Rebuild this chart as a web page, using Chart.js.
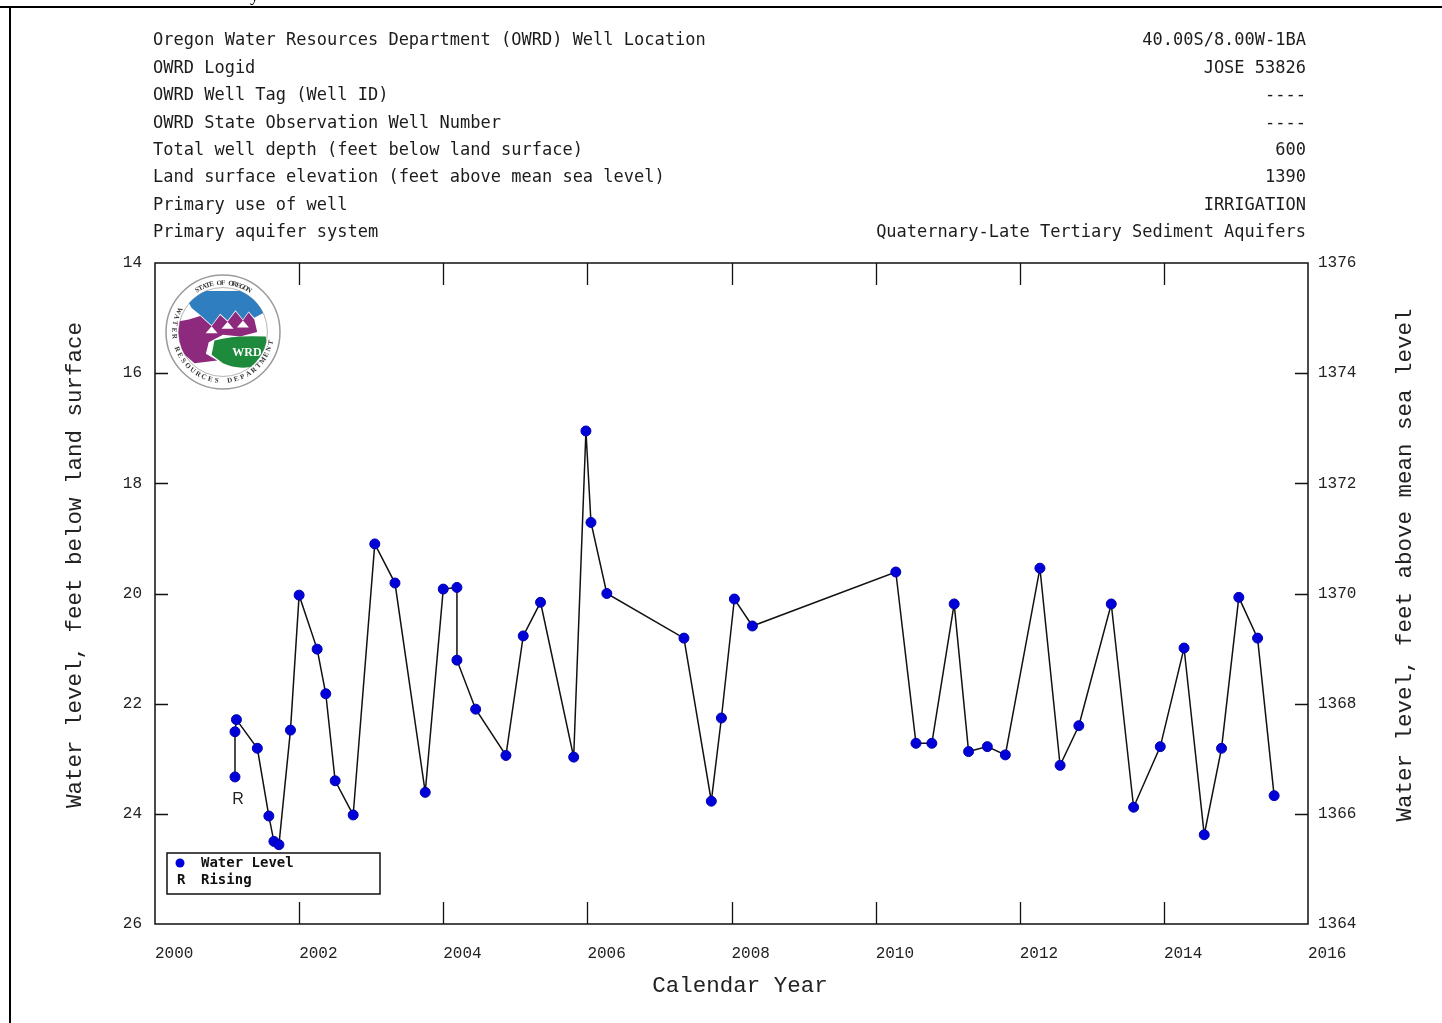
<!DOCTYPE html>
<html><head><meta charset="utf-8">
<script src="https://cdn.jsdelivr.net/npm/chart.js@4.4.1/dist/chart.umd.min.js"></script>
<style>html,body{margin:0;padding:0;background:#fff;overflow:hidden}canvas{display:block}</style>
</head><body>
<canvas id="c" width="1442" height="1023"></canvas>
<script>
// ---- data ----
const years = [2001.11, 2001.11, 2001.13, 2001.42, 2001.58, 2001.65, 2001.72, 2001.88, 2002.00, 2002.25,
  2002.37, 2002.50, 2002.75, 2003.05, 2003.33, 2003.75, 2004.00, 2004.19, 2004.19, 2004.45,
  2004.87, 2005.11, 2005.35, 2005.81, 2005.98, 2006.05, 2006.27, 2007.34, 2007.72, 2007.86,
  2008.04, 2008.29, 2010.28, 2010.56, 2010.78, 2011.09, 2011.29, 2011.55, 2011.80, 2012.28,
  2012.56, 2012.82, 2013.27, 2013.58, 2013.95, 2014.28, 2014.56, 2014.80, 2015.04, 2015.30, 2015.53];
const depths = [23.33, 22.51, 22.29, 22.81, 24.04, 24.50, 24.56, 22.48, 20.03, 21.01,
  21.82, 23.40, 24.02, 19.10, 19.81, 23.61, 19.92, 19.89, 21.21, 22.10,
  22.94, 20.77, 20.16, 22.97, 17.05, 18.71, 20.00, 20.81, 23.77, 22.26,
  20.10, 20.59, 19.61, 22.72, 22.72, 20.19, 22.87, 22.78, 22.93, 19.54,
  23.12, 22.40, 20.19, 23.88, 22.78, 20.99, 24.38, 22.81, 20.07, 20.81, 23.67];
const risingIndex = [0];
const landElevation = 1390;
const xTickYears = [2000, 2002, 2004, 2006, 2008, 2010, 2012, 2014, 2016];
const depthTicks = [14, 16, 18, 20, 22, 24, 26];
const elevTicks = [1376, 1374, 1372, 1370, 1368, 1366, 1364];
const headerLabels = ["Oregon Water Resources Department (OWRD) Well Location", "OWRD Logid",
  "OWRD Well Tag (Well ID)", "OWRD State Observation Well Number", "Total well depth (feet below land surface)",
  "Land surface elevation (feet above mean sea level)", "Primary use of well", "Primary aquifer system"];
const headerValues = ["40.00S/8.00W-1BA", "JOSE 53826", "----", "----", "600", "1390", "IRRIGATION",
  "Quaternary-Late Tertiary Sediment Aquifers"];
const legendItems = ["Water Level", "Rising"];
const xTitle = "Calendar Year";
const yTitle = "Water level, feet below land surface";
const y2Title = "Water level, feet above mean sea level";

const MONO = "'Liberation Mono', 'DejaVu Sans Mono', monospace";
const HDR = "'DejaVu Sans Mono', monospace";
const TXT = '#1c1c1c';

function drawArcText(ctx, text, cx, cy, r, startAng, step, outwardTop) {
  let a = startAng;
  for (const ch of text) {
    ctx.save();
    ctx.translate(cx + r * Math.cos(a), cy + r * Math.sin(a));
    ctx.rotate(outwardTop ? a + Math.PI / 2 : a - Math.PI / 2);
    ctx.fillText(ch, 0, 0);
    ctx.restore();
    a += step;
  }
}

function drawLogo(ctx, cx, cy, r) {
  ctx.save();
  ctx.beginPath(); ctx.arc(cx, cy, r, 0, Math.PI * 2);
  ctx.fillStyle = '#fff'; ctx.fill();
  ctx.lineWidth = 1.5; ctx.strokeStyle = '#9a9a9a'; ctx.stroke();
  ctx.beginPath(); ctx.arc(cx, cy, r * 0.78, 0, Math.PI * 2);
  ctx.lineWidth = 1; ctx.strokeStyle = '#b5b5b5'; ctx.stroke();
  const P = (fx, fy) => [cx + fx * r, cy + fy * r];
  ctx.save();
  ctx.beginPath(); ctx.arc(cx, cy, r * 0.78, 0, Math.PI * 2); ctx.clip();
  // blue (Oregon)
  ctx.beginPath();
  let pts = [[-0.55,-0.42],[-0.62,-0.55],[-0.5,-0.62],[-0.45,-0.75],[-0.3,-0.72],[0.2,-0.72],[0.7,-0.72],[0.74,-0.35],
    [0.55,-0.25],[0.45,-0.36],[0.35,-0.22],[0.22,-0.38],[0.08,-0.2],[-0.05,-0.32],[-0.2,-0.12],[-0.4,-0.3]];
  pts.forEach((p, i) => { const q = P(p[0], p[1]); i ? ctx.lineTo(q[0], q[1]) : ctx.moveTo(q[0], q[1]); });
  ctx.closePath(); ctx.fillStyle = '#2f7fc0'; ctx.fill();
  // purple band
  ctx.beginPath();
  pts = [[-0.95,-0.15],[-0.6,-0.22],[-0.4,-0.28],[-0.2,-0.1],[-0.05,-0.3],[0.08,-0.18],[0.22,-0.36],[0.35,-0.2],
    [0.45,-0.34],[0.55,-0.22],[0.6,0.0],[0.3,0.08],[0.0,0.05],[-0.25,0.18],[-0.3,0.38],[-0.1,0.5],[-0.5,0.55],[-0.9,0.2]];
  pts.forEach((p, i) => { const q = P(p[0], p[1]); i ? ctx.lineTo(q[0], q[1]) : ctx.moveTo(q[0], q[1]); });
  ctx.closePath(); ctx.fillStyle = '#8e2a7e'; ctx.fill();
  // snow caps
  ctx.fillStyle = '#fff';
  [[-0.2,-0.1],[0.08,-0.18],[0.35,-0.2]].forEach(p => {
    const a = P(p[0], p[1]);
    ctx.beginPath(); ctx.moveTo(a[0], a[1]); ctx.lineTo(a[0] - 6, a[1] + 7); ctx.lineTo(a[0] + 6, a[1] + 7); ctx.closePath(); ctx.fill();
  });
  // green
  ctx.beginPath();
  let g = P(-0.15, 0.15); ctx.moveTo(g[0], g[1]);
  g = P(0.2, 0.05); let g2 = P(0.75, 0.08); ctx.quadraticCurveTo(g[0], g[1], g2[0], g2[1]);
  g = P(0.8, 0.55); ctx.lineTo(g[0], g[1]);
  g = P(0.3, 0.7); g2 = P(0.0, 0.55); ctx.quadraticCurveTo(g[0], g[1], g2[0], g2[1]);
  g = P(-0.2, 0.4); ctx.lineTo(g[0], g[1]);
  ctx.closePath(); ctx.fillStyle = '#1e8a3c'; ctx.fill();
  ctx.restore();
  ctx.fillStyle = '#fff'; ctx.font = "bold 12px 'Liberation Serif', serif"; ctx.textAlign = 'center'; ctx.textBaseline = 'middle';
  const w = P(0.42, 0.36); ctx.fillText('WRD', w[0], w[1]);
  // ring text
  ctx.fillStyle = '#333'; ctx.font = "bold 7px 'Liberation Serif', serif";
  drawArcText(ctx, 'STATE OF OREGON', cx, cy, r * 0.86, -Math.PI / 2 - 0.55, 0.079, true);
  drawArcText(ctx, 'WATER RESOURCES DEPARTMENT', cx, cy, r * 0.86, Math.PI + 0.45, -0.135, false);
  ctx.restore();
}

const decorPlugin = {
  id: 'decor',
  beforeDatasetsDraw(chart) {
    const ctx = chart.ctx;
    const { left, right, top, bottom } = chart.chartArea;
    const xs = chart.scales.x, ys = chart.scales.y;
    ctx.save();
    // outer page frame
    ctx.strokeStyle = '#000'; ctx.lineWidth = 2;
    ctx.beginPath(); ctx.moveTo(0, 7); ctx.lineTo(1442, 7); ctx.moveTo(10, 7); ctx.lineTo(10, 1023); ctx.stroke();
    ctx.fillStyle = '#000'; ctx.font = "18px 'Liberation Serif', serif"; ctx.textAlign = 'left'; ctx.textBaseline = 'alphabetic';
    ctx.fillText('y', 250, 1);
    // header
    ctx.font = '17px ' + HDR; ctx.fillStyle = TXT; ctx.textBaseline = 'middle';
    headerLabels.forEach((t, i) => { ctx.textAlign = 'left'; ctx.fillText(t, 153, 41 + i * 27.4); });
    headerValues.forEach((t, i) => { ctx.textAlign = 'right'; ctx.fillText(t, 1306, 41 + i * 27.4); });
    // plot frame
    ctx.strokeStyle = '#111'; ctx.lineWidth = 1.5;
    ctx.strokeRect(left, top, right - left, bottom - top);
    // inside ticks
    ctx.beginPath();
    xTickYears.slice(1, -1).forEach(v => {
      const px = Math.round(xs.getPixelForValue(v)) + 0.5;
      ctx.moveTo(px, bottom); ctx.lineTo(px, bottom - 22);
      ctx.moveTo(px, top); ctx.lineTo(px, top + 22);
    });
    depthTicks.slice(1, -1).forEach(v => {
      const py = Math.round(ys.getPixelForValue(v)) + 0.5;
      ctx.moveTo(left, py); ctx.lineTo(left + 13, py);
      ctx.moveTo(right, py); ctx.lineTo(right - 13, py);
    });
    ctx.lineWidth = 1.3; ctx.stroke();
    // axis titles
    ctx.fillStyle = '#222'; ctx.font = '22.5px ' + MONO; ctx.textAlign = 'center'; ctx.textBaseline = 'middle';
    ctx.fillText(xTitle, 740, 986);
    ctx.save(); ctx.translate(75, 565); ctx.rotate(-Math.PI / 2); ctx.fillText(yTitle, 0, 0); ctx.restore();
    ctx.save(); ctx.translate(1405, 565); ctx.rotate(-Math.PI / 2); ctx.fillText(y2Title, 0, 0); ctx.restore();
    drawLogo(ctx, 223, 332, 57);
    ctx.restore();
  },
  afterDraw(chart) {
    const ctx = chart.ctx;
    const xs = chart.scales.x, ys = chart.scales.y;
    ctx.save();
    // R labels
    ctx.fillStyle = '#222'; ctx.font = "16px 'Liberation Sans', Arial, sans-serif"; ctx.textAlign = 'center'; ctx.textBaseline = 'middle';
    risingIndex.forEach(i => {
      ctx.fillText('R', xs.getPixelForValue(years[i]) + 3, ys.getPixelForValue(depths[i]) + 23);
    });
    // legend
    ctx.strokeStyle = '#111'; ctx.lineWidth = 1.5; ctx.fillStyle = '#fff';
    ctx.fillRect(167, 853, 213, 41); ctx.strokeRect(167, 853, 213, 41);
    ctx.fillStyle = '#0000d8'; ctx.beginPath(); ctx.arc(180, 863, 4.5, 0, Math.PI * 2); ctx.fill();
    ctx.fillStyle = '#111'; ctx.font = 'bold 14px ' + HDR; ctx.textAlign = 'left';
    ctx.fillText(legendItems[0], 201, 863);
    ctx.fillText('R', 177, 880);
    ctx.fillText(legendItems[1], 201, 880);
    ctx.restore();
  }
};

const tickFont = { family: MONO, size: 16 };
new Chart(document.getElementById('c'), {
  type: 'scatter',
  data: {
    datasets: [{
      label: 'Water Level',
      data: years.map((t, i) => ({ x: t, y: depths[i] })),
      showLine: true,
      borderColor: '#111',
      borderWidth: 1.5,
      pointRadius: 5,
      pointBackgroundColor: '#0000d8',
      pointBorderColor: '#0000b0',
      pointBorderWidth: 1,
      yAxisID: 'y'
    }]
  },
  options: {
    responsive: false,
    devicePixelRatio: 1,
    animation: false,
    layout: { padding: { top: 263, left: 0, right: 0, bottom: 0 } },
    plugins: { legend: { display: false }, tooltip: { enabled: false } },
    scales: {
      x: {
        type: 'linear', position: 'bottom', min: xTickYears[0], max: xTickYears[xTickYears.length - 1],
        grid: { display: false, drawTicks: false }, border: { display: false },
        afterBuildTicks: s => { s.ticks = xTickYears.map(v => ({ value: v })); },
        ticks: { align: 'start', padding: 20, font: tickFont, color: '#222', maxRotation: 0, autoSkip: false,
          callback: v => String(v) },
        afterFit: s => { s.height = 99; }
      },
      y: {
        type: 'linear', position: 'left', reverse: true, min: depthTicks[0], max: depthTicks[depthTicks.length - 1],
        grid: { display: false, drawTicks: false }, border: { display: false },
        afterBuildTicks: s => { s.ticks = depthTicks.map(v => ({ value: v })); },
        ticks: { padding: 13, font: tickFont, color: '#222', callback: v => String(v) },
        afterFit: s => { s.width = 155; }
      },
      y2: {
        type: 'linear', position: 'right', min: elevTicks[elevTicks.length - 1], max: elevTicks[0],
        grid: { display: false, drawTicks: false }, border: { display: false },
        afterBuildTicks: s => { s.ticks = elevTicks.map(v => ({ value: v })); },
        ticks: { padding: 10, font: tickFont, color: '#222', callback: v => String(v) },
        afterFit: s => { s.width = 134; }
      }
    }
  },
  plugins: [decorPlugin]
});
</script>
</body></html>
